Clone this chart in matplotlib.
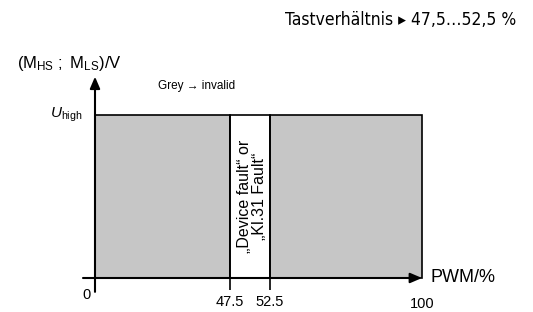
import numpy as np
import matplotlib
matplotlib.use("Agg")
import matplotlib.pyplot as plt

plt.rcParams["font.family"] = ["Liberation Sans", "DejaVu Sans"]
plt.rcParams["mathtext.fontset"] = "custom"
plt.rcParams["mathtext.rm"] = "Liberation Sans"
plt.rcParams["mathtext.it"] = "Liberation Sans:italic"

# data
seg_start = [0, 47.5, 52.5]
seg_end = [47.5, 52.5, 100]
seg_state = ["invalid", "fault", "invalid"]
tick_values = [0, 47.5, 52.5, 100]
tick_labels = ["0", "47.5", "52.5", "100"]
u_high = 1.0

# schematic (non-linear) x axis: knots of duty cycle -> drawn distance
knot_val = np.array([0, 47.5, 52.5, 100])
knot_pos = np.array([0, 135, 175, 327])
s0 = knot_pos[1] / knot_val[1]
s1 = (knot_pos[-1] - knot_pos[-2]) / (knot_val[-1] - knot_val[-2])


def fwd(x):
    x = np.asarray(x, dtype=float)
    y = np.interp(x, knot_val, knot_pos)
    y = np.where(x < 0, x * s0, y)
    y = np.where(x > 100, knot_pos[-1] + (x - 100) * s1, y)
    return y


def inv(p):
    p = np.asarray(p, dtype=float)
    x = np.interp(p, knot_pos, knot_val)
    x = np.where(p < 0, p / s0, x)
    x = np.where(p > knot_pos[-1], 100 + (p - knot_pos[-1]) / s1, x)
    return x


W, H = 533, 312
fig = plt.figure(figsize=(W / 100, H / 100), dpi=100)
ax = fig.add_axes([0, 0, 1, 1])
ax.set_xscale("function", functions=(fwd, inv))
x0_px, y0_px, yh_px = 95, 278, 115
py = (y0_px - yh_px) / u_high
ax.set_xlim(float(inv(-x0_px)), float(inv(W - x0_px)))
ax.set_ylim(-(H - y0_px) / py, y0_px / py)
ax.axis("off")

colors = {"invalid": "#c6c6c6", "fault": "white"}
widths = [e - s for s, e in zip(seg_start, seg_end)]
ax.bar(seg_start, [u_high] * 3, width=widths, align="edge",
       color=[colors[s] for s in seg_state], edgecolor="black", linewidth=1.2, zorder=1)

# axes with arrows
ax.annotate("", xy=(0, 1.235), xytext=(0, -0.085),
            arrowprops=dict(arrowstyle="-|>,head_length=0.7,head_width=0.3",
                            color="black", lw=1.5, shrinkA=0, shrinkB=0), zorder=3)
ax.annotate("", xy=(100, 0), xytext=(float(inv(-12)), 0),
            arrowprops=dict(arrowstyle="-|>,head_length=0.7,head_width=0.3",
                            color="black", lw=1.5, shrinkA=0, shrinkB=0), zorder=3)
ax.vlines([47.5, 52.5], -0.075, u_high, color="black", lw=1.2, zorder=2)

# tick labels
offsets = [(-8, -17), (0, -24), (0, -24), (0, -26)]
for v, lab, off in zip(tick_values, tick_labels, offsets):
    ax.annotate(lab, xy=(v, 0), xytext=off, textcoords="offset pixels",
                ha="center", va="center", fontsize=10.5)

ax.annotate("PWM/%", xy=(100, 0), xytext=(9, 0), textcoords="offset pixels",
            ha="left", va="center", fontsize=13)
ax.annotate(r"$U_\mathrm{high}$", xy=(0, u_high), xytext=(-12, 0),
            textcoords="offset pixels", ha="right", va="center", fontsize=11)
ax.annotate("\u201eDevice fault\u201c or\n\u201eKl.31 Fault\u201c", xy=(50, 0.5),
            xytext=(2, 0), textcoords="offset pixels", rotation=90,
            ha="center", va="center", fontsize=11.5, linespacing=0.95)

fig.text(17 / W, 1 - 64 / H, r"$(\mathrm{M}_\mathrm{HS}\ ;\ \mathrm{M}_\mathrm{LS})/\mathrm{V}$",
         ha="left", va="center", fontsize=12)
fig.text(158 / W, 1 - 86 / H, "Grey \u2192 invalid", ha="left", va="center", fontsize=8.5)
fig.text(516 / W, 1 - 20 / H, "Tastverhältnis \u25b8 47,5\u202652,5 %",
         ha="right", va="center", fontsize=12.5,
         family="DejaVu Sans", stretch="condensed")

fig.savefig("out.png", dpi=100)
